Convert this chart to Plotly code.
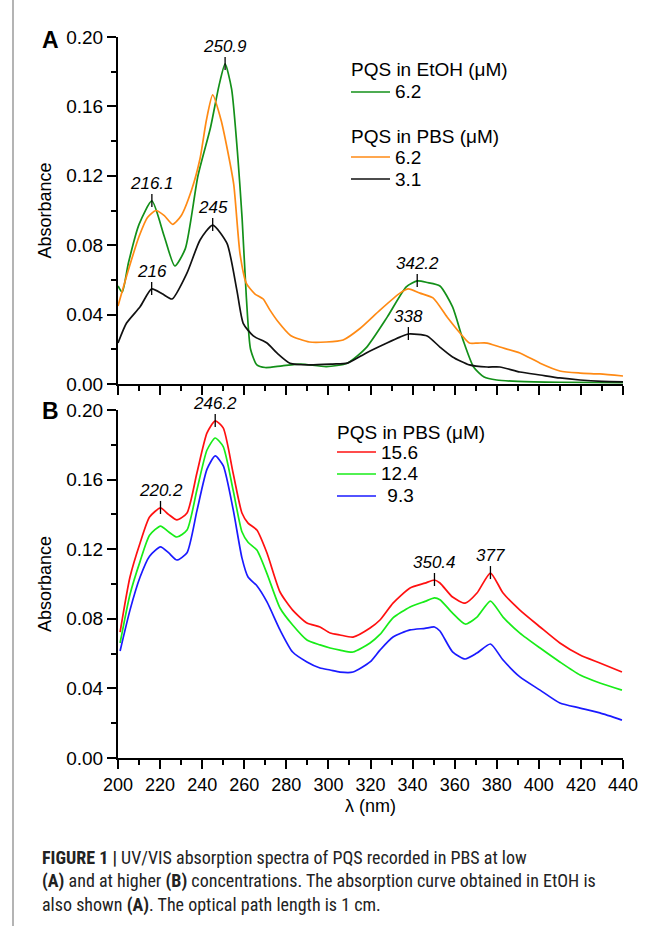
import plotly.graph_objects as go

# ---------------- Panel A data ----------------
etoh62_wl = [200, 202, 205, 210, 216.1, 222, 227, 232, 238, 244, 248, 250.9, 254, 257, 259, 261, 263, 266,
             270, 278, 287, 299, 309, 318, 328, 337, 342.2, 347, 353, 359, 364, 369, 374, 380, 390, 410, 440]
etoh62_abs = [0.0565, 0.053, 0.07, 0.092, 0.1055, 0.085, 0.068, 0.078, 0.12, 0.148, 0.172, 0.1845, 0.17, 0.13,
              0.095, 0.05, 0.02, 0.011, 0.0095, 0.0105, 0.0115, 0.010, 0.012, 0.021, 0.0387, 0.056, 0.0594,
              0.0585, 0.0565, 0.0444, 0.0253, 0.0098, 0.004, 0.0023, 0.0015, 0.001, 0.0008]

pbs62_wl = [200, 205, 210, 214, 218, 222, 226, 230, 235, 239, 242, 245, 249, 252, 255, 258, 261, 265, 269,
            272, 276, 282, 291, 299, 307, 315, 324.5, 334, 338, 343.5, 349.7, 356.4, 362.5, 367, 371, 375.4,
            381.5, 391, 400.6, 410, 419.6, 429, 440]
pbs62_abs = [0.045, 0.066, 0.085, 0.096, 0.100, 0.097, 0.092, 0.097, 0.112, 0.13, 0.152, 0.1666, 0.152,
             0.135, 0.115, 0.075, 0.058, 0.052, 0.049, 0.043, 0.036, 0.028, 0.0242, 0.0242, 0.0254, 0.032,
             0.0426, 0.0524, 0.0548, 0.0524, 0.0496, 0.0386, 0.0294, 0.0236, 0.0236, 0.0236, 0.0213, 0.0179,
             0.012, 0.0075, 0.0063, 0.0058, 0.0046]

pbs31_wl = [200, 204, 210.5, 216, 221, 225.7, 232.8, 239, 245, 251.8, 256.5, 259.5, 264.3, 270.8, 275.5,
            281.7, 291, 302, 309, 318, 327.8, 334, 338, 346.9, 353, 359, 367, 375.4, 381.5, 391, 400.6, 410,
            419.6, 430, 440]
pbs31_abs = [0.0236, 0.035, 0.0445, 0.0548, 0.052, 0.049, 0.064, 0.083, 0.0916, 0.081, 0.054, 0.035, 0.0277,
             0.0236, 0.0179, 0.012, 0.011, 0.0115, 0.012, 0.0179, 0.0236, 0.027, 0.0288, 0.0277, 0.0213,
             0.0156, 0.011, 0.0098, 0.0098, 0.0069, 0.0052, 0.0035, 0.0023, 0.0015, 0.0012]

# ---------------- Panel B data ----------------
b_wl = [201, 205.7, 210.5, 215, 220.2, 224, 228, 232.8, 237.5, 242.3, 246.2, 250, 254.7, 258.9, 261.8, 266,
        270.8, 277, 283, 289.8, 296, 300.8, 305.5, 311.7, 319.8, 324.5, 330.7, 338.8, 345.9, 350.4, 353, 359,
        365, 370.6, 377, 383, 391, 400.6, 410, 419.6, 429, 439.5]
b156_abs = [0.0724, 0.104, 0.1236, 0.1385, 0.1437, 0.140, 0.1368, 0.1408, 0.1638, 0.1868, 0.1937, 0.1897,
            0.1638, 0.1408, 0.135, 0.131, 0.1178, 0.0954, 0.085, 0.0776, 0.0753, 0.0718, 0.0707, 0.0695,
            0.0747, 0.0793, 0.089, 0.0977, 0.1005, 0.1023, 0.1006, 0.0925, 0.089, 0.0948, 0.1063, 0.0948,
            0.085, 0.0753, 0.0661, 0.0592, 0.0546, 0.0494]
b124_abs = [0.0661, 0.094, 0.113, 0.128, 0.1333, 0.130, 0.127, 0.131, 0.154, 0.177, 0.1839, 0.179, 0.154,
            0.130, 0.124, 0.1195, 0.106, 0.0862, 0.0764, 0.0678, 0.065, 0.0632, 0.062, 0.0609, 0.0661, 0.071,
            0.0805, 0.0868, 0.090, 0.092, 0.091, 0.0833, 0.077, 0.081, 0.0902, 0.081, 0.0718, 0.0632, 0.0552,
            0.0477, 0.0431, 0.039]
b93_abs = [0.0615, 0.085, 0.104, 0.116, 0.1213, 0.118, 0.1138, 0.118, 0.142, 0.166, 0.1736, 0.168, 0.143,
           0.115, 0.104, 0.099, 0.0897, 0.0736, 0.0609, 0.0552, 0.0517, 0.0506, 0.0494, 0.0494, 0.0552, 0.062,
           0.0695, 0.0736, 0.0745, 0.0753, 0.073, 0.061, 0.0569, 0.0603, 0.0655, 0.0563, 0.0466, 0.039,
           0.0316, 0.0287, 0.0259, 0.0218]

# ---------------- Peak labels ----------------
peaksA_wl = [216.1, 250.9, 342.2, 216, 245, 338]
peaksA_abs = [0.1055, 0.1845, 0.0594, 0.0548, 0.0916, 0.0288]
peaksA_txt = ["216.1", "250.9", "342.2", "216", "245", "338"]
peaksB_wl = [220.2, 246.2, 350.4, 377]
peaksB_abs = [0.1437, 0.1937, 0.1023, 0.1063]
peaksB_txt = ["220.2", "246.2", "350.4", "377"]

# ---------------- Legend labels ----------------
legendA_groups = ["PQS in EtOH (μM)", "PQS in PBS (μM)"]
legendA_names = ["6.2", "6.2", "3.1"]
legendB_title = "PQS in PBS (μM)"
legendB_names = ["15.6", "12.4", "\u20049.3"]

x_ticks = list(range(200, 441, 20))
y_ticks = [0.00, 0.04, 0.08, 0.12, 0.16, 0.20]

FONT = "Liberation Sans, Arial, sans-serif"
LW = 1.7
colA = ["#139019", "#ff8a14", "#111111"]
colB = ["#ff1010", "#18ec18", "#1a1aff"]

fig = go.Figure()

def add(x, y, color, xa, ya):
    fig.add_trace(go.Scatter(
        x=x, y=y, mode="lines", showlegend=False,
        line=dict(color=color, width=LW, shape="spline", smoothing=0.6),
        xaxis=xa, yaxis=ya, hoverinfo="skip"))

add(etoh62_wl, etoh62_abs, colA[0], "x", "y")
add(pbs62_wl, pbs62_abs, colA[1], "x", "y")
add(pbs31_wl, pbs31_abs, colA[2], "x", "y")
add(b_wl, b156_abs, colB[0], "x2", "y2")
add(b_wl, b124_abs, colB[1], "x2", "y2")
add(b_wl, b93_abs, colB[2], "x2", "y2")

shapes = []
annotations = []
for xr, yr, wls, abss, txts in [("x", "y", peaksA_wl, peaksA_abs, peaksA_txt),
                                ("x2", "y2", peaksB_wl, peaksB_abs, peaksB_txt)]:
    for w, a, t in zip(wls, abss, txts):
        shapes.append(dict(type="line", xref=xr, yref=yr, x0=w, x1=w, ysizemode="pixel",
                           yanchor=a, y0=-6, y1=7, line=dict(color="black", width=1.3)))
        annotations.append(dict(x=w, y=a, xref=xr, yref=yr, text=t, showarrow=False,
                                yanchor="bottom", yshift=6,
                                font=dict(size=17, style="italic", color="black", family=FONT)))

# ---- manual legends (pixel -> paper conversion) ----
L, R, T, B = 118, 623, 37, 758
def px(x):
    return (x - L) / (R - L)
def py(y):
    return (B - y) / (B - T)

def legend_title(text, x, y):
    annotations.append(dict(x=px(x), y=py(y), xref="paper", yref="paper", text=text, showarrow=False,
                            xanchor="left", yanchor="middle",
                            font=dict(size=19, color="black", family=FONT)))

def legend_item(name, color, x, y):
    shapes.append(dict(type="line", xref="paper", yref="paper", x0=px(x), x1=px(x + 39), y0=py(y), y1=py(y),
                       line=dict(color=color, width=LW)))
    annotations.append(dict(x=px(x + 42), y=py(y), xref="paper", yref="paper", text=name, showarrow=False,
                            xanchor="left", yanchor="middle",
                            font=dict(size=19, color="black", family=FONT)))

legend_title(legendA_groups[0], 349, 70)
legend_item(legendA_names[0], colA[0], 351, 92)
legend_title(legendA_groups[1], 349, 136)
legend_item(legendA_names[1], colA[1], 351, 157)
legend_item(legendA_names[2], colA[2], 351, 179)

legend_title(legendB_title, 335, 432)
for i, (n, c) in enumerate(zip(legendB_names, colB)):
    legend_item(n, c, 337, 452 + 22 * i)

# panel letters
annotations.append(dict(x=px(40), y=py(40), xref="paper", yref="paper", text="<b>A</b>", showarrow=False,
                        xanchor="left", yanchor="middle", font=dict(size=23, color="black", family=FONT)))
annotations.append(dict(x=px(40), y=py(411), xref="paper", yref="paper", text="<b>B</b>", showarrow=False,
                        xanchor="left", yanchor="middle", font=dict(size=23, color="black", family=FONT)))

caption = ("<b>FIGURE 1 |</b> UV/VIS absorption spectra of PQS recorded in PBS at low<br>"
           "<b>(A)</b> and at higher <b>(B)</b> concentrations. The absorption curve obtained in EtOH is<br>"
           "also shown <b>(A)</b>. The optical path length is 1 cm.")
annotations.append(dict(x=px(40), y=py(845), xref="paper", yref="paper", text=caption, showarrow=False,
                        xanchor="left", yanchor="top", align="left",
                        font=dict(size=18, color="#222222",
                                  family="Liberation Sans Narrow, Arial Narrow, Roboto Condensed, sans-serif")))

# left page border line
shapes.append(dict(type="line", xref="paper", yref="paper", x0=px(13), x1=px(13), y0=py(930), y1=py(-4),
                   line=dict(color="#b4b4b4", width=2)))

def xaxis_style(show_labels, anchor):
    return dict(range=[200, 440], tickvals=x_ticks, showticklabels=show_labels, ticks="outside",
                ticklen=9, tickwidth=1.5, tickcolor="black", showline=True, linecolor="black",
                linewidth=2, showgrid=False, zeroline=False, anchor=anchor,
                minor=dict(dtick=10, tick0=200, ticks="outside", ticklen=5, tickwidth=1.5, tickcolor="black"),
                tickfont=dict(size=18, color="black", family=FONT))

def yaxis_style(domain, anchor):
    return dict(range=[0, 0.2], tickvals=y_ticks, tickformat=".2f", ticks="outside", ticklen=9,
                tickwidth=1.5, tickcolor="black", showline=True, linecolor="black", linewidth=2,
                showgrid=False, zeroline=False, domain=domain, anchor=anchor,
                minor=dict(dtick=0.02, tick0=0, ticks="outside", ticklen=5, tickwidth=1.5, tickcolor="black"),
                tickfont=dict(size=19, color="black", family=FONT),
                title=dict(text="Absorbance", standoff=10, font=dict(size=18, color="black", family=FONT)))

xa2 = xaxis_style(True, "y2")
xa2["title"] = dict(text="λ (nm)", standoff=6, font=dict(size=18, color="black", family=FONT))

fig.update_layout(
    width=660, height=926,
    margin=dict(l=L, r=660 - R, t=T, b=926 - B),
    paper_bgcolor="white", plot_bgcolor="white",
    font=dict(family=FONT, color="black"),
    xaxis=xaxis_style(False, "y"),
    yaxis=yaxis_style([py(384), 1.0], "x"),
    xaxis2=xa2,
    yaxis2=yaxis_style([0.0, py(410)], "x2"),
    shapes=shapes,
    annotations=annotations,
    showlegend=False,
)

fig.write_html("out.html")
